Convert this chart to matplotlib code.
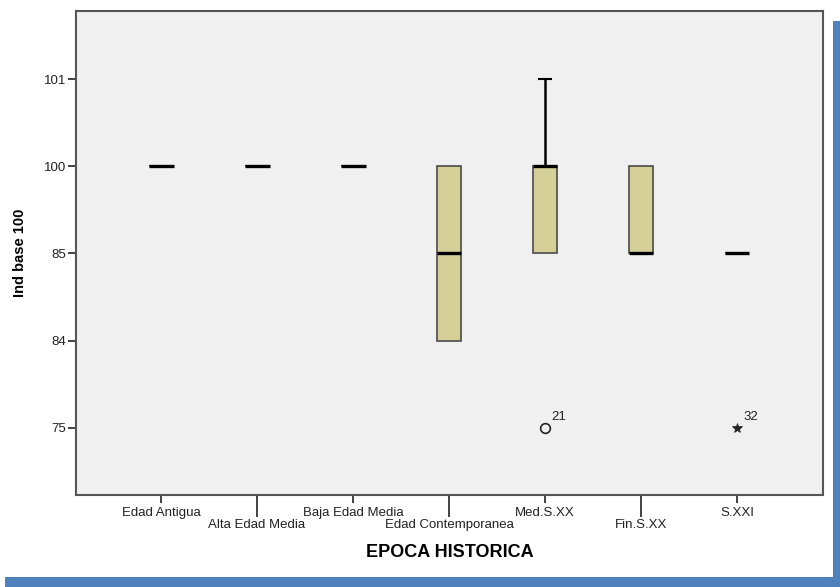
import matplotlib
matplotlib.use("Agg")
import matplotlib.pyplot as plt
from matplotlib.patches import Rectangle
from matplotlib.ticker import FixedLocator, FixedFormatter

plt.rcParams['font.family'] = ['Liberation Sans', 'DejaVu Sans']

# ---- data ----
categories = ["Edad Antigua", "Alta Edad Media", "Baja Edad Media", "Edad Contemporanea",
              "Med.S.XX", "Fin.S.XX", "S.XXI"]
y_levels = [75, 84, 85, 100, 101]          # ordinal axis categories (bottom -> top)
q1_vals = [100, 100, 100, 84, 85, 85, 85]
median_vals = [100, 100, 100, 85, 100, 85, 85]
q3_vals = [100, 100, 100, 100, 100, 100, 85]
whislo_vals = [100, 100, 100, 84, 85, 85, 85]
whishi_vals = [100, 100, 100, 100, 101, 100, 85]
outlier_vals = [[], [], [], [], [75], [], [75]]
outlier_ids = [[], [], [], [], ["21"], [], ["32"]]
outlier_kind = ["", "", "", "", "o", "", "*"]

x_title = "EPOCA HISTORICA"
y_title = "Ind base 100"

def pos(v):
    return y_levels.index(v)

W, H = 840, 587
fig = plt.figure(figsize=(W / 100, H / 100), dpi=100)
fig.patch.set_facecolor("white")

# decorative blue bars of the page
blue = "#4F81BD"
fig.add_artist(Rectangle((5 / W, 0), (W - 5) / W, 10.5 / H, transform=fig.transFigure,
                         facecolor=blue, edgecolor="none"))
fig.add_artist(Rectangle((833 / W, 0), 7 / W, (587 - 21) / H, transform=fig.transFigure,
                         facecolor=blue, edgecolor="none"))

left, right, top, bottom = 75.7, 823, 11, 495
ax = fig.add_axes([left / W, 1 - bottom / H, (right - left) / W, (bottom - top) / H])
ax.set_facecolor("#F0F0F0")

stats = []
for i in range(len(categories)):
    stats.append(dict(
        med=pos(median_vals[i]), q1=pos(q1_vals[i]), q3=pos(q3_vals[i]),
        whislo=pos(whislo_vals[i]), whishi=pos(whishi_vals[i]),
        fliers=[pos(v) for v in outlier_vals[i]], label=categories[i]))

positions = list(range(len(categories)))
res = ax.bxp(stats, positions=positions, widths=0.26, capwidths=0.135, patch_artist=True,
             boxprops=dict(facecolor="#D4D098", edgecolor="#4a4a4a", linewidth=1.2),
             medianprops=dict(color="black", linewidth=2.4, solid_capstyle="butt"),
             whiskerprops=dict(color="black", linewidth=1.8),
             capprops=dict(color="black", linewidth=1.5),
             flierprops=dict(marker="o", markerfacecolor="none", markeredgecolor="#222222",
                             markersize=7, markeredgewidth=1.2),
             manage_ticks=False)

# hide caps where whisker coincides with box
for i, s in enumerate(stats):
    if s["whislo"] == s["q1"]:
        res["caps"][2 * i].set_visible(False)
    if s["whishi"] == s["q3"]:
        res["caps"][2 * i + 1].set_visible(False)
    if outlier_kind[i] == "*":
        res["fliers"][i].set_marker("*")
        res["fliers"][i].set_markerfacecolor("#222222")
        res["fliers"][i].set_markersize(7)
        res["fliers"][i].set_markeredgewidth(0.5)

for i in range(len(categories)):
    for v, lab in zip(outlier_vals[i], outlier_ids[i]):
        ax.annotate(lab, (i, pos(v)), xytext=(4.5, 3.5), textcoords="offset points",
                    fontsize=9.5, color="#222222", ha="left", va="bottom")

ax.set_xlim(-0.889, 6.896)
ax.set_ylim(-0.773, 4.784)

ax.set_yticks(range(len(y_levels)))
ax.set_yticklabels([str(v) for v in y_levels], fontsize=9.5, color="#222222")
ax.tick_params(axis="y", length=6, width=1.2, color="#222222", pad=1)

# staggered category labels: even ones on short major ticks, odd ones on long minor ticks
even_pos = positions[0::2]
odd_pos = positions[1::2]
ax.xaxis.set_major_locator(FixedLocator(even_pos))
ax.xaxis.set_major_formatter(FixedFormatter(categories[0::2]))
ax.xaxis.set_minor_locator(FixedLocator(odd_pos))
ax.xaxis.set_minor_formatter(FixedFormatter(categories[1::2]))
ax.tick_params(axis="x", which="major", length=5.8, width=1.2, color="#222222", pad=3.0,
               labelsize=9.5, labelcolor="#222222")
ax.tick_params(axis="x", which="minor", length=15.5, width=1.2, color="#222222", pad=1.8,
               labelsize=9.5, labelcolor="#222222")

for sp in ax.spines.values():
    sp.set_color("#555555")
    sp.set_linewidth(1.5)

ax.set_xlabel(x_title, fontsize=13, fontweight="bold", labelpad=9)
ax.set_ylabel(y_title, fontsize=10.5, fontweight="bold", labelpad=12)

fig.savefig("out.png", dpi=100)
